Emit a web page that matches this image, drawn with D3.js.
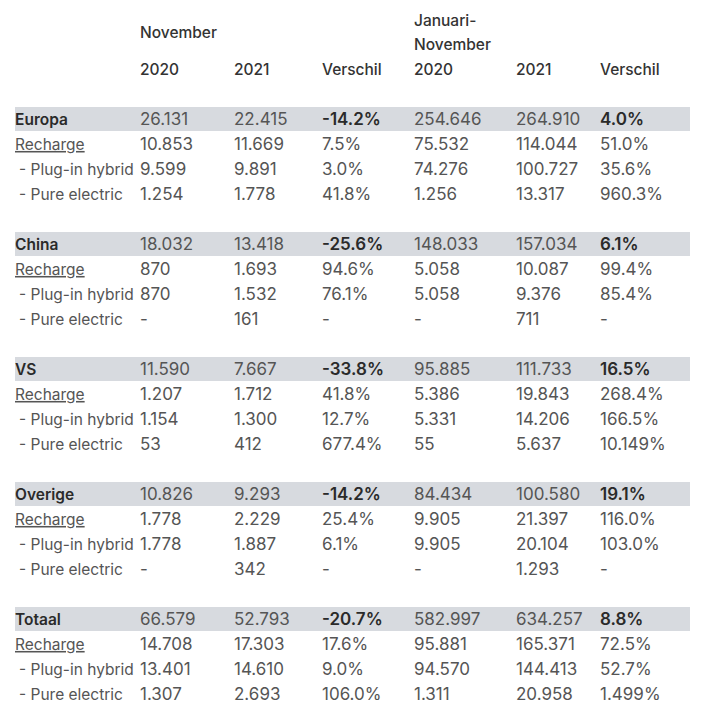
<!DOCTYPE html>
<html lang="nl">
<head>
<meta charset="UTF-8">
<title>Verkopen november</title>
<script src="https://d3js.org/d3.v7.min.js"></script>
<style>
  body { margin: 0; background: #fff; }
  svg { display: block; }
  text { font-family: Inter, 'Noto Sans', sans-serif; font-size: 15.5px; }
</style>
</head>
<body>
<div id="chart"></div>
<script>
// regio's en subrijen
const regions = ["Europa", "China", "VS", "Overige", "Totaal"];
const subLabels = ["Recharge", "- Plug-in hybrid", "- Pure electric"];

const columns = ["nov2020", "nov2021", "novDiff", "jn2020", "jn2021", "jnDiff"];
const yearLabels = ["2020", "2021", "Verschil", "2020", "2021", "Verschil"];

// per regio: totaal, recharge, plug-in, pure electric
const nov2020 = ["26.131", "10.853", "9.599", "1.254",
                 "18.032", "870", "870", "-",
                 "11.590", "1.207", "1.154", "53",
                 "10.826", "1.778", "1.778", "-",
                 "66.579", "14.708", "13.401", "1.307"];
const nov2021 = ["22.415", "11.669", "9.891", "1.778",
                 "13.418", "1.693", "1.532", "161",
                 "7.667", "1.712", "1.300", "412",
                 "9.293", "2.229", "1.887", "342",
                 "52.793", "17.303", "14.610", "2.693"];
const novDiff = ["-14.2%", "7.5%", "3.0%", "41.8%",
                 "-25.6%", "94.6%", "76.1%", "-",
                 "-33.8%", "41.8%", "12.7%", "677.4%",
                 "-14.2%", "25.4%", "6.1%", "-",
                 "-20.7%", "17.6%", "9.0%", "106.0%"];
const jn2020 = ["254.646", "75.532", "74.276", "1.256",
                "148.033", "5.058", "5.058", "-",
                "95.885", "5.386", "5.331", "55",
                "84.434", "9.905", "9.905", "-",
                "582.997", "95.881", "94.570", "1.311"];
const jn2021 = ["264.910", "114.044", "100.727", "13.317",
                "157.034", "10.087", "9.376", "711",
                "111.733", "19.843", "14.206", "5.637",
                "100.580", "21.397", "20.104", "1.293",
                "634.257", "165.371", "144.413", "20.958"];
const jnDiff = ["4.0%", "51.0%", "35.6%", "960.3%",
                "6.1%", "99.4%", "85.4%", "-",
                "16.5%", "268.4%", "166.5%", "10.149%",
                "19.1%", "116.0%", "103.0%", "-",
                "8.8%", "72.5%", "52.7%", "1.499%"];

const colData = { nov2020, nov2021, novDiff, jn2020, jn2021, jnDiff };

const width = 702, height = 726;
const svg = d3.select("#chart").append("svg")
    .attr("width", width)
    .attr("height", height);

const x = d3.scaleOrdinal()
    .domain(columns)
    .range([140, 234, 322, 414, 516, 600]);

// rij-index: regio * 5 + subrij
const y = d3.scaleLinear().domain([0, 1]).range([119.5, 144.5]);

const labelX = 15;

// header
svg.append("text").attr("x", x("nov2020")).attr("y", 32.5).attr("dy", "0.35em")
    .attr("fill", "#333").attr("font-weight", 500).text("November");
svg.append("text").attr("x", x("jn2020")).attr("y", 20.5).attr("dy", "0.35em")
    .attr("fill", "#333").attr("font-weight", 500).text("Januari-");
svg.append("text").attr("x", x("jn2020")).attr("y", 44.5).attr("dy", "0.35em")
    .attr("fill", "#333").attr("font-weight", 500).text("November");
svg.selectAll(".year")
    .data(columns)
    .enter().append("text")
    .attr("class", "year")
    .attr("x", d => x(d))
    .attr("y", 69.5)
    .attr("dy", "0.35em")
    .attr("fill", "#333")
    .attr("font-weight", 500)
    .text((d, i) => yearLabels[i]);

// grijze balken achter regio-rijen
svg.selectAll(".band")
    .data(regions)
    .enter().append("rect")
    .attr("class", "band")
    .attr("x", 15)
    .attr("width", 675)
    .attr("y", (d, i) => y(i * 5) - 12.5)
    .attr("height", 24)
    .attr("fill", "#d7dadf");

const rows = [];
regions.forEach((r, ri) => {
    rows.push({ label: r, idx: ri * 5, k: ri * 4, main: true });
    subLabels.forEach((s, si) => {
        rows.push({ label: s, idx: ri * 5 + si + 1, k: ri * 4 + si + 1, main: false, sub: si });
    });
});

const row = svg.selectAll(".row")
    .data(rows)
    .enter().append("g")
    .attr("class", "row")
    .attr("transform", d => `translate(0,${y(d.idx)})`);

row.append("text")
    .attr("x", d => d.sub > 0 ? labelX + 4 : labelX)
    .attr("dy", "0.35em")
    .attr("fill", d => d.main ? "#2a2a2a" : "#555")
    .attr("font-weight", d => d.main ? 600 : 400)
    .attr("text-decoration", d => d.sub === 0 ? "underline" : null)
    .text(d => d.label);

columns.forEach(c => {
    const isDiff = c === "novDiff" || c === "jnDiff";
    row.append("text")
        .attr("x", x(c))
        .attr("dy", "0.35em")
        .attr("fill", d => d.main && isDiff ? "#2a2a2a" : "#555")
        .attr("font-weight", d => d.main && isDiff ? 600 : 400)
        .style("font-size", "17px")
        .text(d => colData[c][d.k]);
});
</script>
</body>
</html>
